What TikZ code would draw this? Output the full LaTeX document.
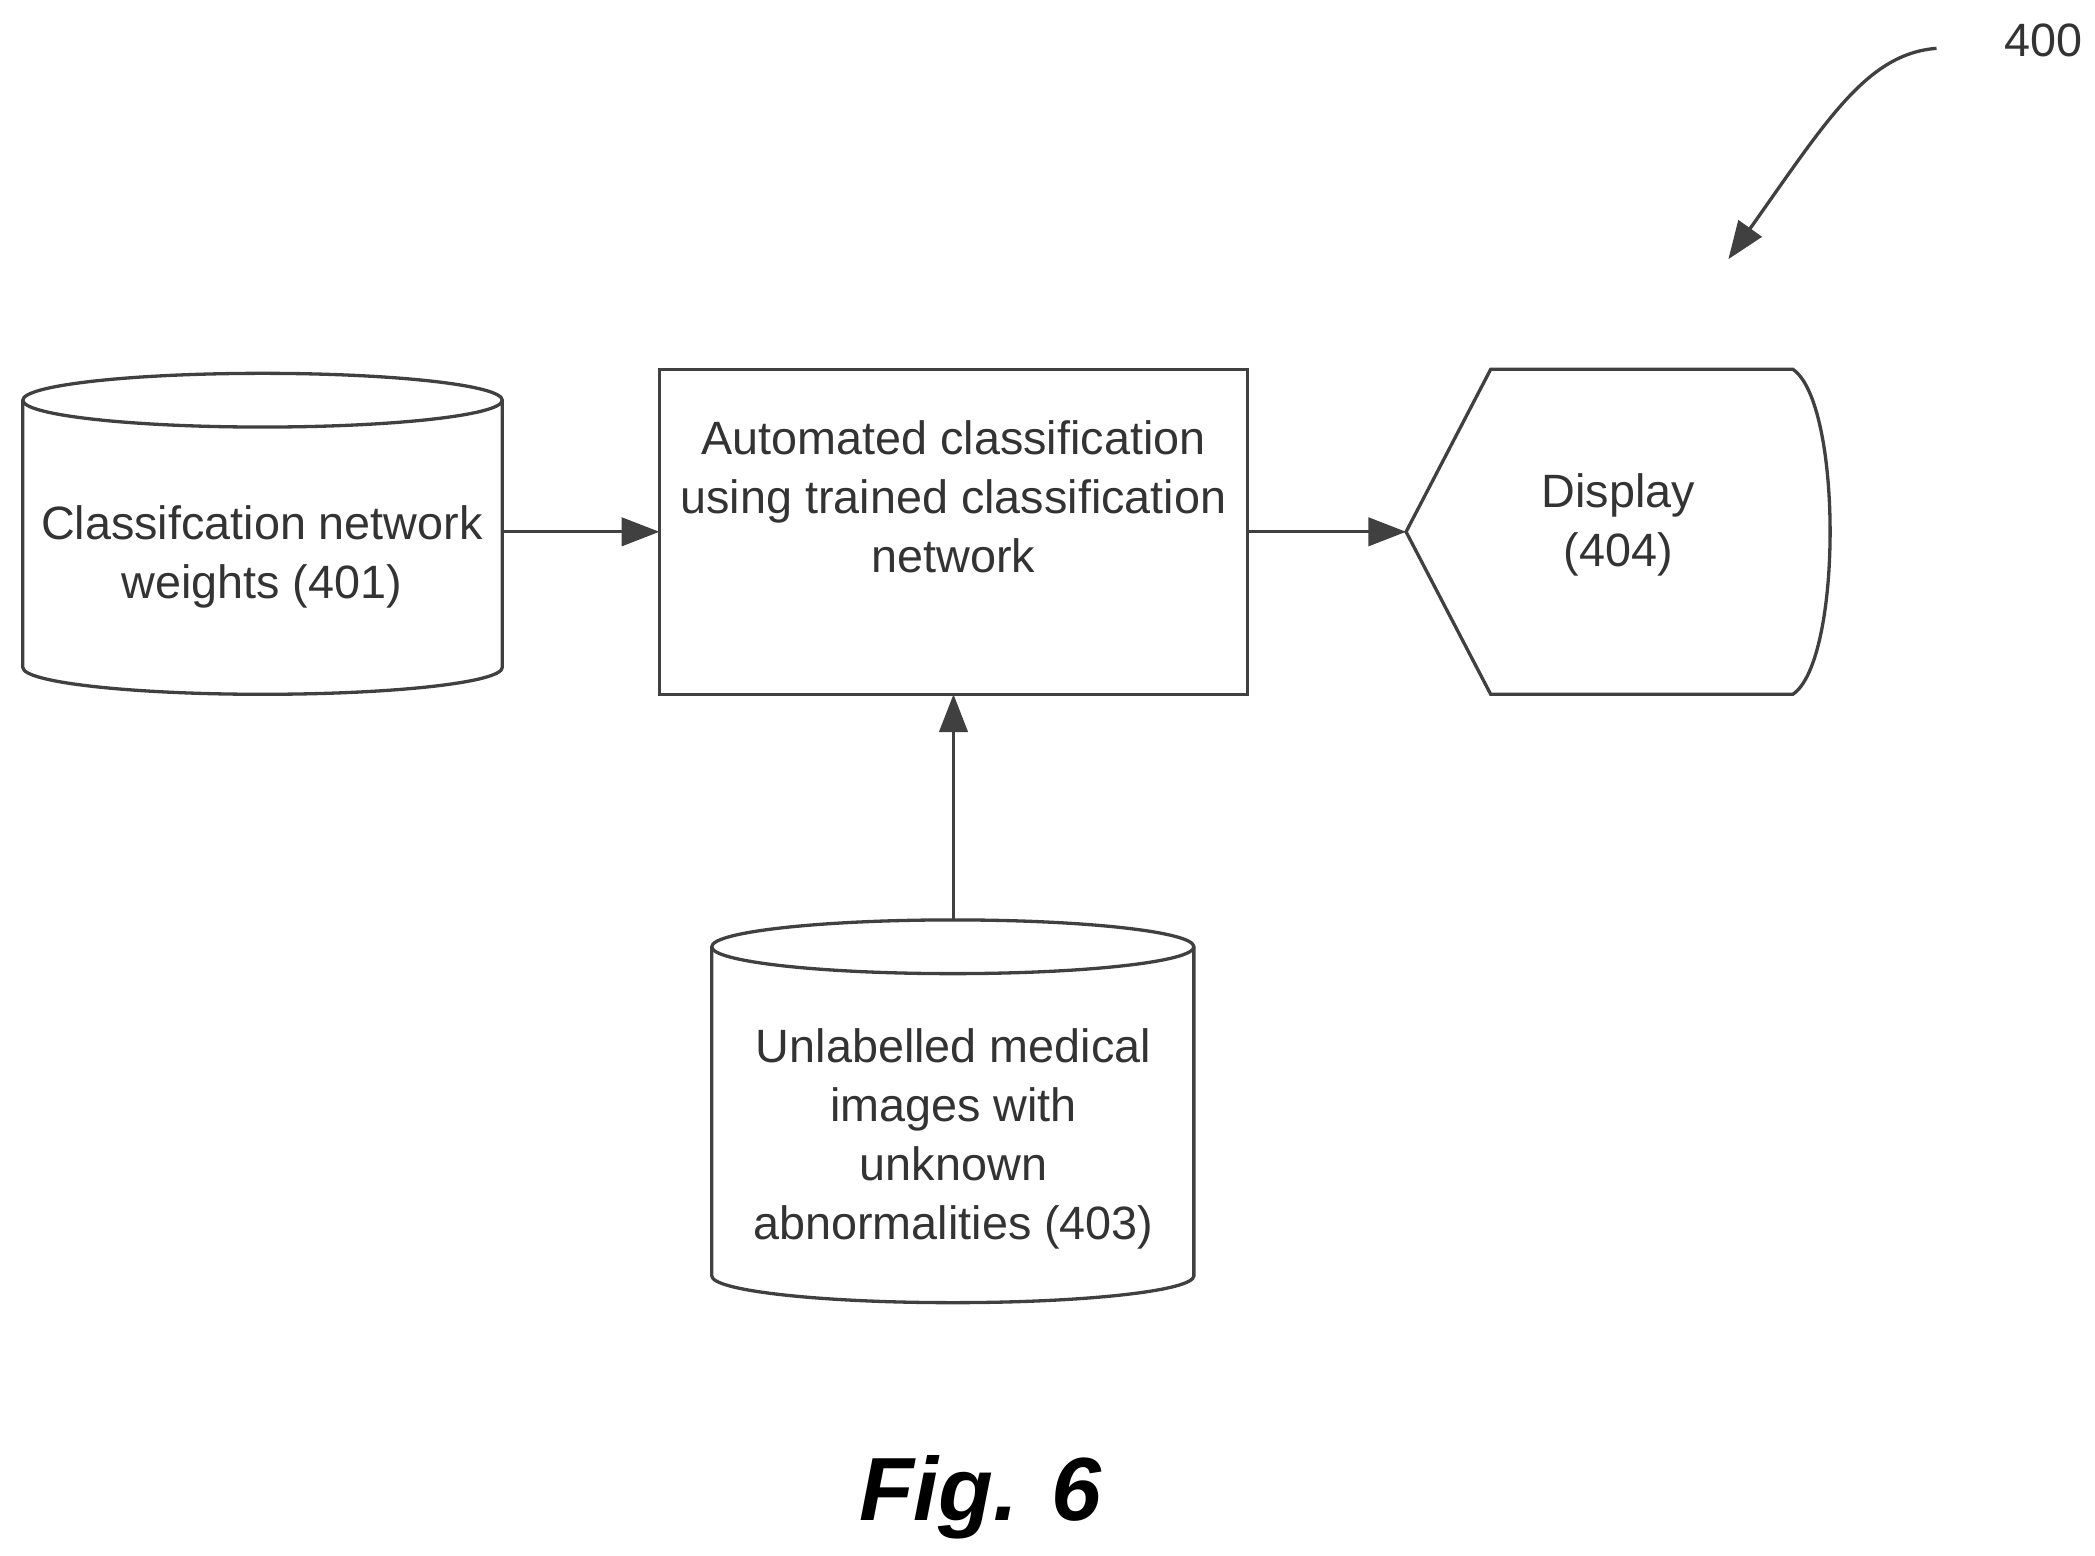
\documentclass[tikz,border=0pt]{standalone}
\usepackage{fontspec}
\setmainfont{Liberation Sans}
\usetikzlibrary{arrows.meta}
\begin{document}
\begin{tikzpicture}[x=0.01cm,y=-0.01cm,
  ln/.style={draw=black!75,line width=0.7pt},
  arr/.style={ln,-{Triangle[length=8pt,width=6pt]}},
  txt/.style={font=\fontsize{9.9}{12.5}\selectfont,text=black!80,align=center}]
\useasboundingbox (0,0) rectangle (1560,1158);
% cylinder 401
\draw[ln] (17,298) -- (17,497) arc[start angle=180,end angle=0,x radius=178.5,y radius=20] -- (374,298);
\draw[ln] (195.5,298) ellipse [x radius=178.5,y radius=20];
\node[txt] (a) at (195,415) {Classifcation network\\weights (401)};
\coordinate (ar) at (374,396);
% rectangle
\draw[ln] (491,275) rectangle (929,517);
\node[txt] (b) at (710,370) {Automated classification\\using trained classification\\network};
\coordinate (bl) at (491,396);
\coordinate (br) at (929,396);
\coordinate (bb) at (710,517);
% display
\draw[ln] (1047,396) -- (1110,275) -- (1335,275) .. controls (1372,300) and (1372,492) .. (1335,517) -- (1110,517) -- cycle;
\node[txt] (c) at (1205,391) {Display\\(404)};
\coordinate (cl) at (1047,396);
% cylinder 403
\draw[ln] (530,705) -- (530,950) arc[start angle=180,end angle=0,x radius=179.5,y radius=20] -- (889,705);
\draw[ln] (709.5,705) ellipse [x radius=179.5,y radius=20];
\node[txt] (d) at (710,848) {Unlabelled medical\\images with\\unknown\\abnormalities (403)};
\coordinate (dt) at (710,685);
% arrows
\draw[arr] (ar) -- (bl);
\draw[arr] (br) -- (cl);
\draw[arr] (dt) -- (bb);
% label 400
\node[txt] (l) at (1522,30) {400};
\coordinate (s) at (1442,36);
\coordinate (e) at (1287,193);
\draw[arr] (s) .. controls (1390,40) and (1360,90) .. (e);
\node[font=\bfseries\itshape\fontsize{19}{23}\selectfont] (f) at (730,1115) {Fig. 6};
\end{tikzpicture}
\end{document}
